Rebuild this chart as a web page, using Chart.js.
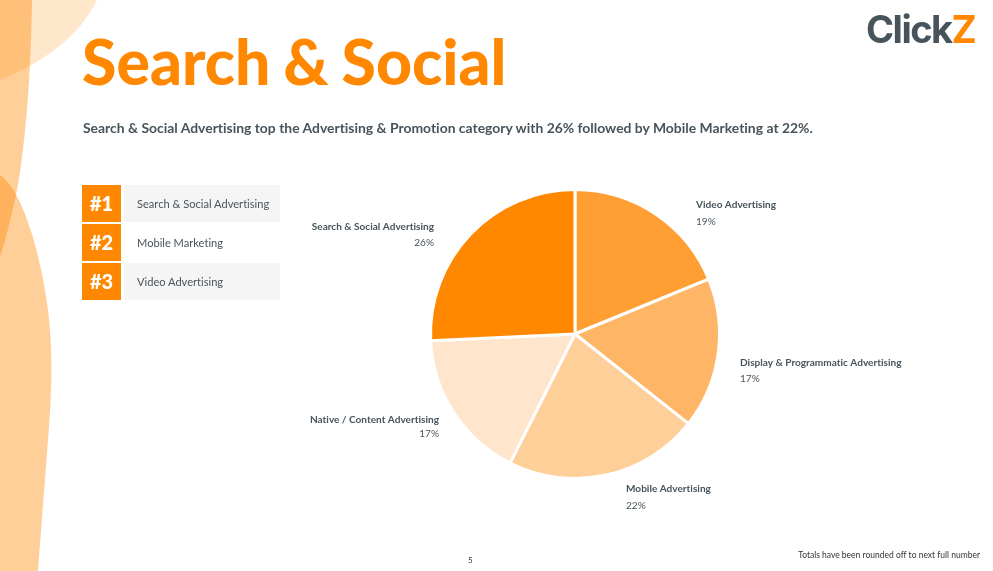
<!DOCTYPE html>
<html>
<head>
<meta charset="utf-8">
<script src="https://cdn.jsdelivr.net/npm/chart.js@4"></script>
<style>
  html, body { margin: 0; padding: 0; background: #fff; }
  body { width: 993px; height: 571px; position: relative; overflow: hidden; font-family: Lato, sans-serif; color: #48545b; font-variant-ligatures: none; }
  .abs { position: absolute; white-space: nowrap; }
  #bg { position: absolute; left: 0; top: 0; }
  #pie { position: absolute; left: 0; top: 0; }
  #title { left: 82px; top: 23px; font-size: 62.5px; line-height: 76px; font-weight: 900; color: #ff8800; word-spacing: -2px; }
  #sub { left: 83px; top: 119px; font-size: 13.92px; line-height: 17px; font-weight: 700; }
  #logo { left: 866px; top: 7px; font-family: Inter, sans-serif; font-size: 38px; line-height: 44px; font-weight: 700; letter-spacing: -1.5px; }
  #logo span { color: #ff8800; }
  #page { left: 468px; top: 554px; font-size: 8px; line-height: 12px; color: #333; }
  #note { right: 13px; top: 549px; font-size: 8.5px; line-height: 13px; color: #333; }
  .rank { left: 82px; width: 39px; height: 37px; background: #ff8800; color: #fff; font-size: 20px; font-weight: 900; line-height: 37px; text-align: center; }
  .row { left: 124px; width: 143px; height: 37px; padding-left: 13px; font-size: 11.1px; line-height: 37px; }
  .row.odd { width: 143px; background: #f5f5f5; }
</style>
</head>
<body>
<svg id="bg" width="993" height="571">
  <path d="M0 0 H97 C80 35 45 62 0 80 Z" fill="#ff8800" fill-opacity="0.2"/>
  <path d="M0 0 H32 C31 70 26 140 17 190 C12 215 6 238 0 257 Z" fill="#ff8800" fill-opacity="0.4"/>
  <path d="M0 175 C22 190 40 250 48 310 C53 350 52 390 48 440 C45 480 41 530 38 571 H0 Z" fill="#ff8800" fill-opacity="0.4"/>
</svg>
<canvas id="pie" width="993" height="571"></canvas>
<div class="abs" id="title">Search &amp; Social</div>
<div class="abs" id="sub">Search &amp; Social Advertising top the Advertising &amp; Promotion category with 26% followed by Mobile Marketing at 22%.</div>
<div class="abs" id="logo">Click<span>Z</span></div>
<div id="ranks"></div>
<div class="abs" id="page">5</div>
<div class="abs" id="note">Totals have been rounded off to next full number</div>
<script>
const categories = ['Video Advertising', 'Display & Programmatic Advertising', 'Mobile Advertising', 'Native / Content Advertising', 'Search & Social Advertising'];
const shares = [19, 17, 22, 17, 26];
const colors = ['#ff9f33', '#ffb566', '#ffcf99', '#fee5cc', '#ff8800'];
const topThree = ['Search & Social Advertising', 'Mobile Marketing', 'Video Advertising'];

// label spots were placed by hand on the slide, so they are set per slice here
const labelSpots = [
  { x: 696, y: 205, gap: 17, align: 'left' },
  { x: 740, y: 363, gap: 16, align: 'left' },
  { x: 626, y: 489, gap: 17, align: 'left' },
  { x: 439, y: 420, gap: 14, align: 'right' },
  { x: 434, y: 227, gap: 16, align: 'right' }
];

const ranks = document.getElementById('ranks');
topThree.forEach((name, i) => {
  const top = 185 + i * 39;
  const badge = document.createElement('div');
  badge.className = 'abs rank';
  badge.style.top = top + 'px';
  badge.textContent = '#' + (i + 1);
  const row = document.createElement('div');
  row.className = 'abs row' + (i % 2 === 0 ? ' odd' : '');
  row.style.top = top + 'px';
  row.textContent = name;
  ranks.appendChild(badge);
  ranks.appendChild(row);
});

const sliceLabels = {
  id: 'sliceLabels',
  afterDraw(chart) {
    const ctx = chart.ctx;
    ctx.save();
    ctx.fillStyle = '#48545b';
    ctx.textBaseline = 'middle';
    ctx.letterSpacing = '0.01px'; // stops the "ti" ligature
    labelSpots.forEach((spot, i) => {
      ctx.textAlign = spot.align;
      ctx.font = '700 10.05px Lato';
      ctx.fillText(categories[i], spot.x, spot.y);
      ctx.font = '400 10.05px Lato';
      ctx.fillText(shares[i] + '%', spot.x, spot.y + spot.gap);
    });
    ctx.restore();
  }
};

new Chart(document.getElementById('pie'), {
  type: 'pie',
  data: {
    labels: categories,
    datasets: [{
      data: shares,
      backgroundColor: colors,
      borderColor: '#ffffff',
      borderWidth: 3
    }]
  },
  options: {
    responsive: false,
    animation: false,
    layout: { padding: { left: 429, right: 272, top: 188, bottom: 91 } },
    plugins: { legend: { display: false }, tooltip: { enabled: false } }
  },
  plugins: [sliceLabels]
});
</script>
</body>
</html>
